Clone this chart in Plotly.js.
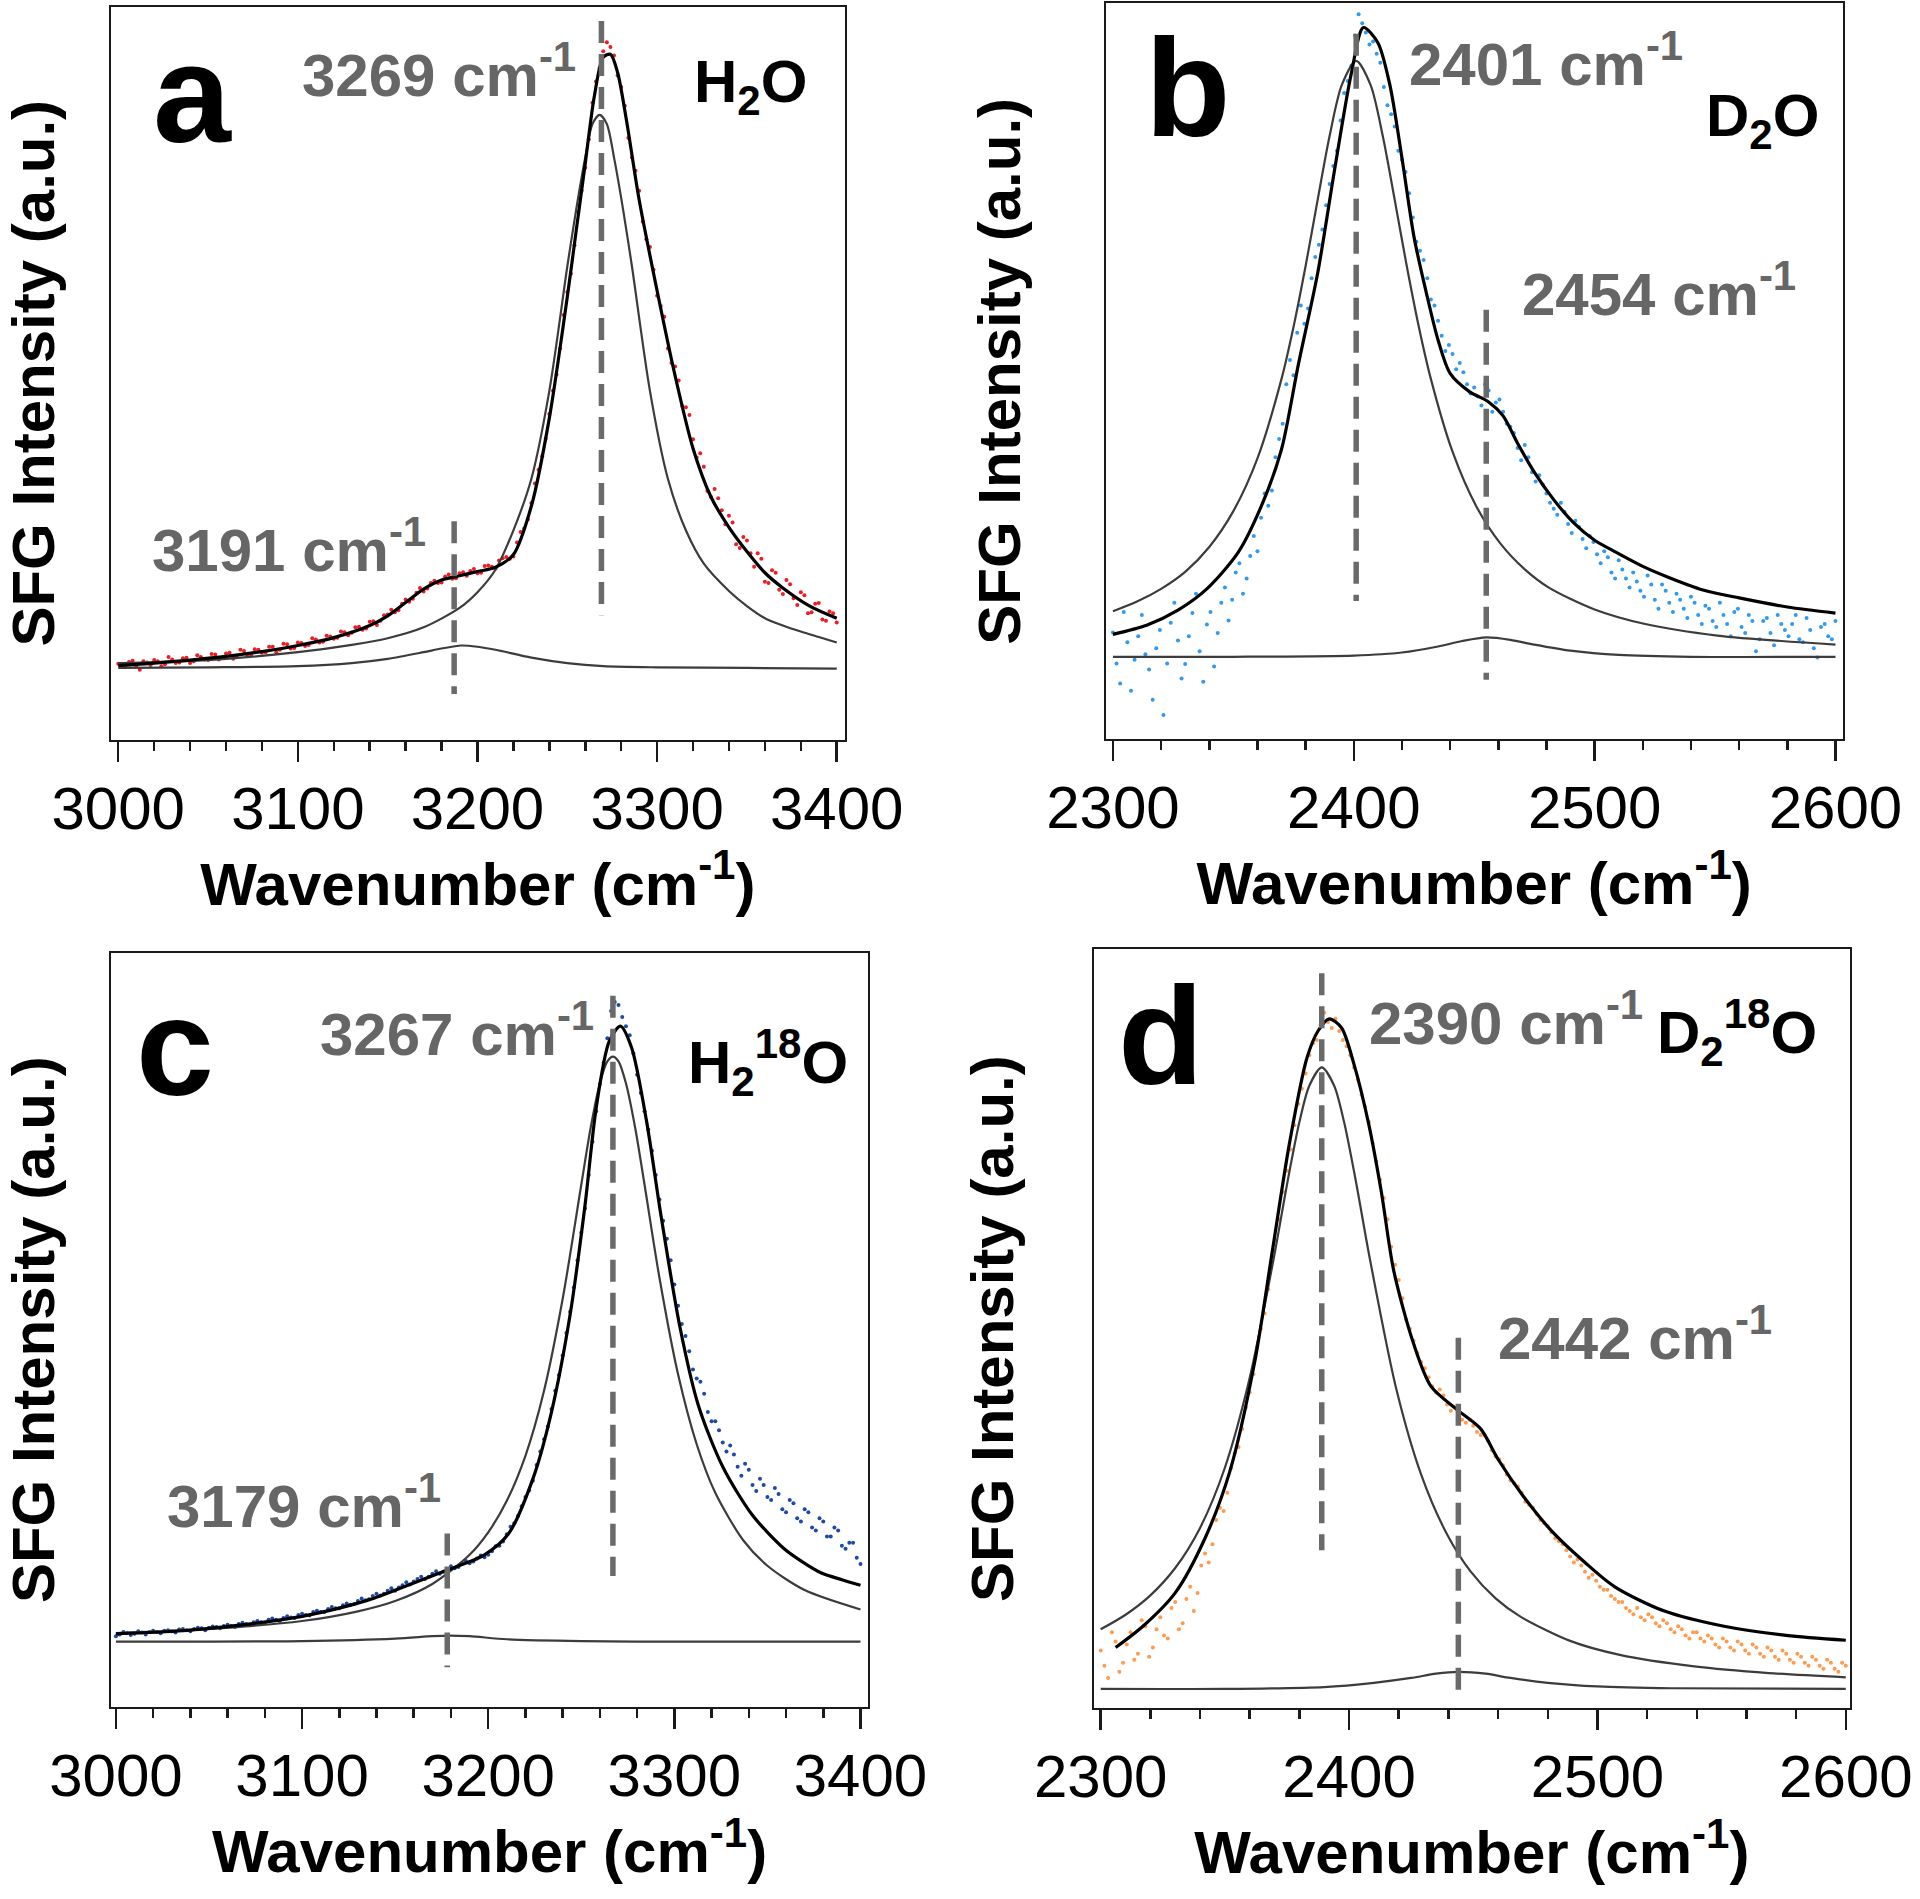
<!DOCTYPE html>
<html><head><meta charset="utf-8">
<script src="https://cdn.plot.ly/plotly-3.0.1.min.js"></script>
<style>html,body{margin:0;padding:0;background:#fff}</style>
</head><body><div id="chart" style="width:1920px;height:1899px"></div>
<script>
// ---------- Tick labels ----------
const ticksOH = [3000, 3100, 3200, 3300, 3400];
const ticksOD = [2300, 2400, 2500, 2600];

// ---------- Panel a : H2O ----------
const aSample = 'H<sub>2</sub>O';
const aPeakLabels = [3269, 3191];
const aDashX = [3269, 3187];
const aDashTop = [118.5, 36.0];
const aDashBottom = [20.5, 7.5];
const aDataX = [3000,3004,3008,3012,3016,3020,3024,3028,3032,3036,3040,3044,3048,3052,3056,3060,3064,3068,3072,3076,3080,3084,3088,3092,3096,3100,3104,3108,3112,3116,3120,3124,3128,3132,3136,3140,3144,3148,3152,3156,3160,3164,3168,3172,3176,3180,3184,3188,3192,3196,3200,3204,3208,3212,3216,3220,3224,3228,3232,3236,3240,3244,3248,3252,3256,3260,3264,3268,3272,3276,3280,3284,3288,3292,3296,3300,3304,3308,3312,3316,3320,3324,3328,3332,3336,3340,3344,3348,3352,3356,3360,3364,3368,3372,3376,3380,3384,3388,3392,3396,3400];
const aDataY = [12.5,11.9,13.0,11.5,12.7,13.1,12.1,13.6,12.6,13.4,12.6,13.9,13.2,14.1,13.2,14.2,13.3,14.8,13.9,14.9,14.3,15.3,14.4,15.8,15.0,16.0,15.4,16.7,16.0,17.1,16.6,17.8,17.2,18.5,18.1,19.4,18.9,20.5,21.4,21.3,23.1,23.2,25.0,24.9,26.2,25.9,27.2,26.6,27.6,27.8,27.4,28.6,28.5,29.5,30.1,30.2,34.2,36.3,42.2,46.7,53.7,60.2,70.0,76.8,87.0,94.3,105.0,110.7,115.0,112.8,107.6,99.2,93.8,85.4,81.2,73.2,69.7,62.1,59.2,54.8,49.5,47.2,41.0,41.3,37.8,36.9,32.2,33.4,30.7,30.7,26.0,27.9,24.7,26.3,23.3,24.3,20.8,22.4,19.8,21.1,19.3];
const aData2X = [3002,3006,3010,3014,3018,3022,3026,3030,3034,3038,3042,3046,3050,3054,3058,3062,3066,3070,3074,3078,3082,3086,3090,3094,3098,3102,3106,3110,3114,3118,3122,3126,3130,3134,3138,3142,3146,3150,3154,3158,3162,3166,3170,3174,3178,3182,3186,3190,3194,3198,3202,3206,3210,3214,3218,3222,3226,3230,3234,3238,3242,3246,3250,3254,3258,3262,3266,3270,3274,3278,3282,3286,3290,3294,3298,3302,3306,3310,3314,3318,3322,3326,3330,3334,3338,3342,3346,3350,3354,3358,3362,3366,3370,3374,3378,3382,3386,3390,3394,3398];
const aData2Y = [12.0,12.8,12.1,12.9,12.3,12.9,12.4,13.2,12.7,13.5,12.9,13.6,13.1,14.0,13.5,14.3,13.6,14.6,14.0,14.8,14.4,15.3,14.8,15.7,15.1,15.9,15.6,16.5,16.1,17.0,16.8,17.7,17.6,18.6,18.3,19.5,19.6,20.6,21.0,22.4,22.7,24.2,24.4,25.8,25.8,26.9,26.5,27.4,27.0,28.1,27.5,28.7,28.2,29.9,29.8,32.5,34.8,39.0,44.5,49.6,57.5,64.5,73.8,81.5,90.5,99.0,108.5,113.5,114.2,109.5,104.5,96.0,90.5,82.5,77.5,71.5,64.5,61.5,55.0,53.5,46.5,45.0,40.0,39.8,35.5,35.8,31.6,32.8,28.5,29.8,25.8,27.5,24.0,25.6,22.2,23.8,21.0,22.5,19.6,20.8];
const aFitX = [3000,3020,3040,3060,3080,3100,3120,3140,3150,3160,3170,3180,3190,3200,3210,3220,3230,3240,3250,3255,3260,3265,3270,3274,3278,3283,3290,3300,3310,3320,3330,3340,3350,3360,3370,3385,3400];
const aFitY = [12.2,12.6,13.1,13.7,14.5,15.5,16.8,18.8,20.4,22.6,24.8,26.3,27.0,27.7,28.4,30.5,38.5,53,73,84,95,106,112.5,113,110,102,89,74,60,48,40,35,31,27.5,25,22,20];
const aMainX = [3000,3050,3100,3130,3150,3170,3190,3200,3210,3220,3230,3240,3250,3255,3260,3264,3268,3272,3276,3281,3286,3296,3306,3316,3326,3340,3350,3360,3370,3380,3390,3400];
const aMainY = [12.6,13.1,14.4,15.6,16.7,18.5,21.7,24.3,28.0,34.5,43.0,57.5,78.0,87.5,96.0,101.5,103.0,101.5,96.0,87.5,78.0,57.5,43.0,34.5,29.0,24.5,22.0,20.0,18.8,17.8,16.9,16.0];
const aSmallX = [3000,3050,3100,3130,3150,3170,3180,3191,3200,3210,3230,3250,3270,3300,3350,3400];
const aSmallY = [11.8,11.9,12.1,12.6,13.3,14.4,15.0,15.5,15.3,14.8,13.5,12.6,12.1,11.9,11.8,11.7];

// ---------- Panel b : D2O ----------
const bSample = 'D<sub>2</sub>O';
const bPeakLabels = [2401, 2454];
const bDashX = [2401, 2455];
const bDashTop = [116.3, 70.8];
const bDashBottom = [22.8, 9.8];
const bDataX = [2300,2303,2306,2309,2312,2315,2318,2321,2324,2327,2330,2333,2336,2339,2342,2345,2348,2351,2354,2357,2360,2363,2366,2369,2372,2375,2378,2381,2384,2387,2390,2393,2396,2399,2402,2405,2408,2411,2414,2417,2420,2423,2426,2429,2432,2435,2438,2441,2444,2447,2450,2453,2456,2459,2462,2465,2468,2471,2474,2477,2480,2483,2486,2489,2492,2495,2498,2501,2504,2507,2510,2513,2516,2519,2522,2525,2528,2531,2534,2537,2540,2543,2546,2549,2552,2555,2558,2561,2564,2567,2570,2573,2576,2579,2582,2585,2588,2591,2594,2597,2600];
const bDataY = [17.6,9.2,16.0,13.1,20.5,11.5,15.0,4.0,19.2,16.3,12.4,20.8,14.5,18.9,12.0,22.5,19.6,27.5,24.0,30.2,31.0,40.5,41.0,49.5,58.5,60.0,71.5,71.0,79.5,84.0,91.5,97.0,106.5,111.0,119.5,116.5,115.0,111.5,104.5,101.0,95.5,90.0,82.0,79.0,72.5,69.0,64.0,63.5,62.0,58.5,58.0,55.0,57.5,55.5,54.0,51.5,48.0,48.5,44.0,43.5,40.5,38.0,39.0,35.5,36.0,33.0,33.5,30.5,31.0,27.5,29.5,26.5,27.5,24.5,27.0,23.0,25.5,22.5,24.0,21.5,23.5,20.5,22.0,19.5,22.5,19.0,21.0,18.5,20.5,14.5,19.5,17.5,20.5,18.0,19.0,16.5,20.0,15.0,18.5,17.0,19.5];
const bData2X = [2301.5,2304.5,2307.5,2310.5,2313.5,2316.5,2319.5,2322.5,2325.5,2328.5,2331.5,2334.5,2337.5,2340.5,2343.5,2346.5,2349.5,2352.5,2355.5,2358.5,2361.5,2364.5,2367.5,2370.5,2373.5,2376.5,2379.5,2382.5,2385.5,2388.5,2391.5,2394.5,2397.5,2400.5,2403.5,2406.5,2409.5,2412.5,2415.5,2418.5,2421.5,2424.5,2427.5,2430.5,2433.5,2436.5,2439.5,2442.5,2445.5,2448.5,2451.5,2454.5,2457.5,2460.5,2463.5,2466.5,2469.5,2472.5,2475.5,2478.5,2481.5,2484.5,2487.5,2490.5,2493.5,2496.5,2499.5,2502.5,2505.5,2508.5,2511.5,2514.5,2517.5,2520.5,2523.5,2526.5,2529.5,2532.5,2535.5,2538.5,2541.5,2544.5,2547.5,2550.5,2553.5,2556.5,2559.5,2562.5,2565.5,2568.5,2571.5,2574.5,2577.5,2580.5,2583.5,2586.5,2589.5,2592.5,2595.5,2598.5];
const bData2Y = [12.5,21.0,8.0,17.0,14.0,6.5,18.0,12.5,22.5,10.0,17.0,24.0,9.5,21.0,17.5,25.0,23.0,29.0,26.5,33.5,36.5,38.5,46.5,52.0,62.5,67.0,68.5,76.0,81.5,88.0,94.5,102.0,108.5,116.0,118.0,114.5,113.0,107.5,103.0,97.0,93.5,86.0,80.5,76.0,71.5,66.5,65.0,61.0,60.5,57.0,56.5,58.5,54.0,56.0,52.0,50.5,46.0,46.5,42.5,42.0,39.0,37.0,37.5,34.0,35.0,31.5,32.5,29.0,30.0,26.5,28.0,25.0,26.0,23.5,25.5,21.5,24.5,21.0,23.0,20.0,22.5,19.0,21.5,18.5,20.5,17.0,21.5,17.5,19.5,16.5,20.0,15.5,19.0,17.0,20.5,16.0,18.0,13.5,19.0,16.5];
const bFitX = [2300,2314,2327,2339,2352,2362,2370,2377,2385,2392,2399,2404,2410,2415,2420,2425,2430,2435,2440,2448,2456,2462,2468,2475,2483,2491,2500,2509,2520,2530,2545,2560,2580,2600];
const bFitY = [17.3,18.8,21.3,24.8,30.8,38.8,47.8,61.8,76.8,93.8,109.8,117.3,114.8,107.8,95.8,82.8,73.8,65.8,60.3,57.3,55.6,53.3,48.8,44.0,39.5,35.8,32.8,30.8,28.5,26.8,24.6,23.3,21.8,20.8];
const bMainX = [2300,2310,2320,2330,2340,2350,2360,2370,2375,2380,2385,2390,2395,2401,2407,2412,2417,2422,2427,2432,2441,2451,2461,2471,2481,2500,2521,2551,2600];
const bMainY = [21.1,22.7,24.8,27.6,31.7,37.6,46.3,59.4,68.0,78.0,88.9,99.5,107.8,111.8,107.8,99.5,88.9,78.0,68.0,59.4,47.4,38.3,32.2,28.0,25.0,21.4,19.0,17.1,15.6];
const bSmallX = [2300,2350,2400,2420,2435,2445,2455,2465,2475,2490,2510,2540,2600];
const bSmallY = [13.6,13.6,13.8,14.3,15.3,16.2,16.8,16.4,15.6,14.6,13.9,13.6,13.6];

// ---------- Panel c : H2(18)O ----------
const cSample = 'H<sub>2</sub><sup>18</sup>O';
const cPeakLabels = [3267, 3179];
const cDashX = [3267, 3178];
const cDashTop = [117.0, 28.5];
const cDashBottom = [21.5, 6.5];
const cDataX = [3000,3004,3008,3012,3016,3020,3024,3028,3032,3036,3040,3044,3048,3052,3056,3060,3064,3068,3072,3076,3080,3084,3088,3092,3096,3100,3104,3108,3112,3116,3120,3124,3128,3132,3136,3140,3144,3148,3152,3156,3160,3164,3168,3172,3176,3180,3184,3188,3192,3196,3200,3204,3208,3212,3216,3220,3224,3228,3232,3236,3240,3244,3248,3252,3256,3260,3264,3268,3272,3276,3280,3284,3288,3292,3296,3300,3304,3308,3312,3316,3320,3324,3328,3332,3336,3340,3344,3348,3352,3356,3360,3364,3368,3372,3376,3380,3384,3388,3392,3396,3400];
const cDataY = [11.6,12.3,11.8,12.4,11.9,12.5,12.1,12.6,12.2,12.8,12.4,13.0,12.6,13.2,12.9,13.5,13.1,13.8,13.4,14.1,13.8,14.5,14.1,14.9,14.6,15.3,15.0,15.8,15.6,16.4,16.2,17.0,16.9,17.8,17.7,18.6,18.6,19.5,19.6,20.5,20.6,21.4,21.4,22.3,22.2,23.1,23.0,24.0,23.9,24.9,25.0,26.4,27.2,29.6,31.4,34.5,37.2,42.0,46.1,52.0,57.8,65.0,73.5,82.0,93.0,102.5,110.0,116.0,113.5,110.5,104.0,98.0,91.5,83.5,77.0,69.5,63.0,58.5,54.0,51.5,47.0,45.5,42.0,41.5,38.0,39.0,35.5,36.5,34.0,35.0,32.0,33.5,30.5,32.0,29.0,30.5,28.0,29.0,26.0,27.0,23.5];
const cData2X = [3002,3006,3010,3014,3018,3022,3026,3030,3034,3038,3042,3046,3050,3054,3058,3062,3066,3070,3074,3078,3082,3086,3090,3094,3098,3102,3106,3110,3114,3118,3122,3126,3130,3134,3138,3142,3146,3150,3154,3158,3162,3166,3170,3174,3178,3182,3186,3190,3194,3198,3202,3206,3210,3214,3218,3222,3226,3230,3234,3238,3242,3246,3250,3254,3258,3262,3266,3270,3274,3278,3282,3286,3290,3294,3298,3302,3306,3310,3314,3318,3322,3326,3330,3334,3338,3342,3346,3350,3354,3358,3362,3366,3370,3374,3378,3382,3386,3390,3394,3398];
const cData2Y = [11.9,12.1,12.0,12.2,12.3,12.3,12.5,12.4,12.7,12.6,12.8,12.9,13.0,13.1,13.3,13.3,13.6,13.6,13.9,13.9,14.3,14.3,14.6,14.7,15.1,15.1,15.6,15.6,16.1,16.2,16.7,16.8,17.4,17.5,18.2,18.3,19.1,19.1,20.0,20.1,21.0,21.0,21.9,21.9,22.6,22.8,23.5,23.6,24.4,24.6,25.6,26.5,28.4,30.2,33.0,35.6,39.8,44.0,49.0,54.6,61.5,69.0,78.0,87.5,98.0,106.0,114.5,115.5,112.0,107.5,101.0,95.0,87.5,80.0,73.5,66.0,61.0,55.5,53.5,48.5,47.0,43.5,43.0,39.5,40.0,36.5,37.5,34.5,36.0,32.5,34.0,31.0,32.5,29.5,31.0,28.0,29.5,26.5,27.0,24.5];
const cFitX = [3000,3036,3069,3102,3135,3161,3178,3198,3211,3224,3234,3244,3252,3258,3265,3271,3277,3285,3293,3303,3313,3326,3342,3359,3369,3379,3390,3400];
const cFitY = [12.0,12.5,13.5,15.0,17.5,20.5,22.5,25.0,28.5,37.5,48.5,64.5,82.5,98.5,109.5,112.0,108.5,96.5,80.5,62.5,49.5,39.5,31.5,26.0,23.8,22.0,20.9,20.0];
const cMainX = [3000,3050,3100,3130,3150,3170,3190,3200,3210,3220,3230,3240,3250,3255,3260,3264,3267,3270,3274,3279,3284,3292,3302,3312,3322,3337,3350,3370,3400];
const cMainY = [12.1,12.8,14.1,15.7,17.4,20.2,25.0,28.7,33.9,41.3,52.0,67.1,85.9,95.2,102.6,106.2,107.0,106.2,102.6,95.2,85.9,70.6,54.7,43.2,35.2,27.4,23.2,19.2,16.0];
const cSmallX = [3000,3100,3150,3170,3179,3190,3210,3250,3300,3400];
const cSmallY = [10.7,10.8,11.2,11.6,11.7,11.6,11.1,10.8,10.7,10.7];

// ---------- Panel d : D2(18)O ----------
const dSample = 'D<sub>2</sub><sup>18</sup>O';
const dPeakLabels = [2390, 2442];
const dDashX = [2389, 2444];
const dDashTop = [121.0, 61.0];
const dDashBottom = [26.0, 2.0];
const dDataX = [2300,2303,2306,2309,2312,2315,2318,2321,2324,2327,2330,2333,2336,2339,2342,2345,2348,2351,2354,2357,2360,2363,2366,2369,2372,2375,2378,2381,2384,2387,2390,2393,2396,2399,2402,2405,2408,2411,2414,2417,2420,2423,2426,2429,2432,2435,2438,2441,2444,2447,2450,2453,2456,2459,2462,2465,2468,2471,2474,2477,2480,2483,2486,2489,2492,2495,2498,2501,2504,2507,2510,2513,2516,2519,2522,2525,2528,2531,2534,2537,2540,2543,2546,2549,2552,2555,2558,2561,2564,2567,2570,2573,2576,2579,2582,2585,2588,2591,2594,2597,2600];
const dDataY = [9.5,5.0,11.0,7.5,12.5,9.0,13.5,10.0,15.0,11.5,17.5,14.0,20.0,19.0,25.5,27.0,33.0,35.5,42.0,46.0,52.0,59.5,65.0,73.5,80.5,88.5,96.0,102.0,107.5,110.0,114.5,112.0,111.5,109.0,105.5,101.0,96.5,90.0,84.0,76.0,70.5,64.0,60.5,57.0,54.5,52.0,51.5,49.0,48.5,47.0,46.5,45.0,44.0,41.5,40.0,37.5,36.5,34.0,33.0,31.0,30.0,28.0,27.0,25.0,24.5,22.5,22.0,20.0,19.5,18.0,17.5,16.0,16.5,14.5,15.0,13.5,14.0,12.5,13.0,11.5,12.5,11.0,11.5,10.0,11.0,9.5,10.5,9.0,10.0,8.5,9.5,8.0,9.0,7.5,8.5,7.0,8.0,6.5,7.5,6.0,7.0];
const dData2X = [2301.5,2304.5,2307.5,2310.5,2313.5,2316.5,2319.5,2322.5,2325.5,2328.5,2331.5,2334.5,2337.5,2340.5,2343.5,2346.5,2349.5,2352.5,2355.5,2358.5,2361.5,2364.5,2367.5,2370.5,2373.5,2376.5,2379.5,2382.5,2385.5,2388.5,2391.5,2394.5,2397.5,2400.5,2403.5,2406.5,2409.5,2412.5,2415.5,2418.5,2421.5,2424.5,2427.5,2430.5,2433.5,2436.5,2439.5,2442.5,2445.5,2448.5,2451.5,2454.5,2457.5,2460.5,2463.5,2466.5,2469.5,2472.5,2475.5,2478.5,2481.5,2484.5,2487.5,2490.5,2493.5,2496.5,2499.5,2502.5,2505.5,2508.5,2511.5,2514.5,2517.5,2520.5,2523.5,2526.5,2529.5,2532.5,2535.5,2538.5,2541.5,2544.5,2547.5,2550.5,2553.5,2556.5,2559.5,2562.5,2565.5,2568.5,2571.5,2574.5,2577.5,2580.5,2583.5,2586.5,2589.5,2592.5,2595.5,2598.5];
const dData2Y = [7.0,12.5,6.0,10.5,8.0,14.5,8.5,13.0,12.0,16.5,13.0,18.0,16.0,23.5,24.0,31.0,32.5,39.5,43.0,49.5,55.0,62.5,69.0,77.0,85.0,92.0,99.5,104.5,109.5,112.5,113.0,113.5,110.0,107.5,103.5,99.0,93.0,87.0,80.5,73.0,67.5,62.5,58.5,56.0,53.0,52.5,50.0,49.5,47.5,47.5,45.5,45.0,42.5,41.0,38.5,37.0,35.5,33.5,32.0,30.5,29.0,27.5,26.0,24.0,23.5,21.5,21.0,19.5,18.5,17.5,16.5,15.5,15.0,15.5,14.0,14.5,13.0,13.5,12.0,12.5,11.5,12.0,10.5,11.5,10.0,11.0,9.5,10.5,9.0,10.0,8.5,9.5,8.0,9.0,7.5,8.5,7.0,8.0,6.5,7.5];
const dFitX = [2306,2317,2330,2342,2352,2362,2369,2376,2383,2387.5,2392,2397,2402,2408,2413,2418,2426,2433,2444,2453,2460,2470,2482,2495,2507,2527,2551,2576,2600];
const dFitY = [10.0,13.5,19.0,28.0,39.0,57.0,75.0,93.0,107.0,111.5,113.5,112.0,106.0,96.0,85.0,72.0,60.0,53.0,49.0,46.0,41.0,35.0,29.0,24.0,20.0,16.0,13.5,12.0,11.2];
const dMainX = [2300,2310,2320,2330,2340,2350,2360,2370,2375,2380,2384,2389,2394,2398,2403,2408,2419,2429,2439,2449,2459,2469,2489,2509,2539,2569,2600];
const dMainY = [13.0,15.4,18.6,23.1,29.7,39.6,54.4,74.8,86.2,96.5,102.5,105.5,102.5,96.5,86.2,74.8,52.6,38.5,29.0,22.5,18.1,15.1,11.1,8.8,6.9,5.8,5.1];
const dSmallX = [2300,2350,2390,2410,2425,2435,2444,2455,2465,2480,2500,2530,2600];
const dSmallY = [3.2,3.2,3.5,4.2,5.0,5.7,6.0,5.7,5.0,4.2,3.6,3.3,3.2];

// ---------- Layout / styling ----------
const W = 1920, H = 1899;
const FONT = 'Liberation Sans, Arial, Helvetica, sans-serif';
const px = v => v / W;
const py = v => 1 - v / H;

const panels = [
  {letter:'a', sample:aSample, peaks:aPeakLabels, ticks:ticksOH,
   box:[110.7,845,7,739.5], xr:[2995.8,3404.6], yr:[0,120.8], color:'#ee1c24', ystand:42,
   data:[[aDataX,aDataY],[aData2X,aData2Y]], fitX:aFitX, fitY:aFitY, mainX:aMainX, mainY:aMainY, smallX:aSmallX, smallY:aSmallY,
   dashX:aDashX, dashTop:aDashTop, dashBottom:aDashBottom,
   letterPos:[192,94], samplePos:[692,86], peakPos:[[300,71],[150,546]]},
  {letter:'b', sample:bSample, peaks:bPeakLabels, ticks:ticksOD,
   box:[1105.7,1842.7,3.3,739.3], xr:[2297,2603], yr:[0,121.3], color:'#2f9af0', ystand:64,
   data:[[bDataX,bDataY],[bData2X,bData2Y]], fitX:bFitX, fitY:bFitY, mainX:bMainX, mainY:bMainY, smallX:bSmallX, smallY:bSmallY,
   dashX:bDashX, dashTop:bDashTop, dashBottom:bDashBottom,
   letterPos:[1188,88], samplePos:[1704,120], peakPos:[[1407,60],[1520,290]]},
  {letter:'c', sample:cSample, peaks:cPeakLabels, ticks:ticksOH,
   box:[110.7,868.3,952.7,1706.7], xr:[2997.2,3404.2], yr:[0,124.1], color:'#1d4aa6', ystand:42,
   data:[[cDataX,cDataY],[cData2X,cData2Y]], fitX:cFitX, fitY:cFitY, mainX:cMainX, mainY:cMainY, smallX:cSmallX, smallY:cSmallY,
   dashX:cDashX, dashTop:cDashTop, dashBottom:cDashBottom,
   letterPos:[175,1046], samplePos:[686,1062], peakPos:[[318,1030],[165,1502]]},
  {letter:'d', sample:dSample, peaks:dPeakLabels, ticks:ticksOD,
   box:[1093.5,1850,949,1708.3], xr:[2297.1,2601.7], yr:[0,125], color:'#ff9b4e', ystand:58,
   data:[[dDataX,dDataY],[dData2X,dData2Y]], fitX:dFitX, fitY:dFitY, mainX:dMainX, mainY:dMainY, smallX:dSmallX, smallY:dSmallY,
   dashX:dDashX, dashTop:dDashTop, dashBottom:dDashBottom,
   letterPos:[1161,1035], samplePos:[1655,1032], peakPos:[[1367,1019],[1496,1334]]}
];

const traces = [];
const layout = {
  width: W, height: H, margin: {l:0, r:0, t:0, b:0},
  paper_bgcolor: '#fff', plot_bgcolor: '#fff',
  showlegend: false, hovermode: false,
  font: {family: FONT, color: '#000'},
  annotations: []
};

panels.forEach((p, i) => {
  const n = i === 0 ? '' : String(i + 1);
  const xa = 'x' + n, ya = 'y' + n;
  p.data.forEach(([dxs, dys]) => {
    traces.push({type:'scatter', mode:'markers', x:dxs, y:dys, xaxis:xa, yaxis:ya,
      marker:{size:4, color:p.color}});
  });
  traces.push({type:'scatter', mode:'lines', x:p.mainX, y:p.mainY, xaxis:xa, yaxis:ya,
    line:{color:'#3c3c3c', width:2.2, shape:'spline', smoothing:0.8}});
  traces.push({type:'scatter', mode:'lines', x:p.smallX, y:p.smallY, xaxis:xa, yaxis:ya,
    line:{color:'#3c3c3c', width:2.2, shape:'spline', smoothing:0.8}});
  traces.push({type:'scatter', mode:'lines', x:p.fitX, y:p.fitY, xaxis:xa, yaxis:ya,
    line:{color:'#000', width:3.2, shape:'spline', smoothing:0.8}});
  p.dashX.forEach((dxv, k) => {
    traces.push({type:'scatter', mode:'lines', x:[dxv, dxv], y:[p.dashTop[k], p.dashBottom[k]],
      xaxis:xa, yaxis:ya, line:{color:'#6a6a6a', width:5.5, dash:'22px,11px'}});
  });

  layout['xaxis' + n] = {
    domain:[px(p.box[0]), px(p.box[1])], range:p.xr, anchor:ya,
    showline:true, mirror:true, linecolor:'#1a1a1a', linewidth:2,
    ticks:'outside', ticklen:20, tickwidth:2.5, tickcolor:'#1a1a1a',
    tickvals:p.ticks, ticktext:p.ticks.map(String), ticklabelstandoff:-5,
    minor:{ticks:'outside', ticklen:9, tickwidth:2.5, tickcolor:'#1a1a1a', dtick:20, tick0:p.ticks[0], showgrid:false},
    showgrid:false, zeroline:false, fixedrange:true,
    tickfont:{family:FONT, size:60, color:'#000'},
    title:{text:'<b>Wavenumber (cm<sup>-1</sup>)</b>', font:{family:FONT, size:60, color:'#000'}, standoff:6}
  };
  layout['yaxis' + n] = {
    domain:[py(p.box[3]), py(p.box[2])], range:p.yr, anchor:xa,
    showline:true, mirror:true, linecolor:'#1a1a1a', linewidth:2,
    ticks:'', showticklabels:false, showgrid:false, zeroline:false, fixedrange:true,
    title:{text:'<b>SFG Intensity (a.u.)</b>', font:{family:FONT, size:60, color:'#000'}, standoff:p.ystand}
  };

  layout.annotations.push({xref:'paper', yref:'paper', x:px(p.letterPos[0]), y:py(p.letterPos[1]),
    xanchor:'center', yanchor:'middle', showarrow:false,
    text:'<b>' + p.letter + '</b>', font:{family:FONT, size:140, color:'#000'}});
  layout.annotations.push({xref:'paper', yref:'paper', x:px(p.samplePos[0]), y:py(p.samplePos[1]),
    xanchor:'left', yanchor:'middle', showarrow:false,
    text:'<b>' + p.sample + '</b>', font:{family:FONT, size:60, color:'#000'}});
  p.peaks.forEach((pk, k) => {
    layout.annotations.push({xref:'paper', yref:'paper', x:px(p.peakPos[k][0]), y:py(p.peakPos[k][1]),
      xanchor:'left', yanchor:'middle', showarrow:false,
      text:'<b>' + pk + ' cm<sup>-1</sup></b>', font:{family:FONT, size:60, color:'#666666'}});
  });
});

Plotly.newPlot('chart', traces, layout, {staticPlot:true, displayModeBar:false});
</script>
</body></html>
